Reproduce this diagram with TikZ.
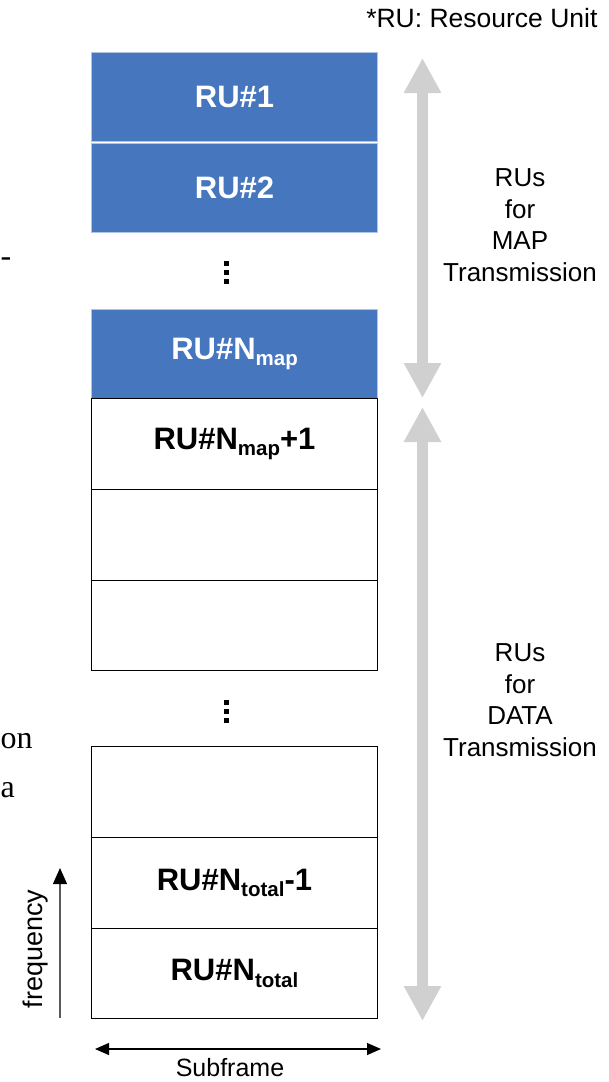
\documentclass[tikz,border=0pt]{standalone}
\usepackage{fontspec}
\setmainfont{Liberation Sans}
\newfontfamily\cutserif{Liberation Serif}
\usetikzlibrary{arrows.meta}

\definecolor{ruBlue}{RGB}{70,118,190}
\definecolor{ruEdge}{RGB}{175,196,230}
\definecolor{spanGray}{RGB}{208,208,208}

% lowered subscript used in the RU labels
\newcommand{\rusub}[1]{\raisebox{-6.5pt}{\fontsize{20.5}{20.5}\selectfont #1}}

\begin{document}
\begin{tikzpicture}[x=1pt, y=-1pt,
  rubox/.style={rectangle, anchor=north west, minimum width=286pt,
    inner sep=0pt, font=\fontsize{31}{36}\selectfont\bfseries},
  mapbox/.style={rubox, fill=ruBlue, draw=ruEdge, line width=1.2pt, text=white},
  databox/.style={rubox, fill=white, draw=black, line width=0.9pt, text=black},
  sidelabel/.style={align=center, font=\fontsize{26}{31.5}\selectfont},
  axislabel/.style={font=\fontsize{25}{30}\selectfont, inner sep=1pt},
  fragment/.style={anchor=base west, inner sep=0pt, font=\cutserif\fontsize{32}{32}\selectfont},
  span/.style={draw=spanGray, line width=11pt,
    {Triangle[width=35pt,length=35pt]}-{Triangle[width=35pt,length=35pt]}},
  dot/.style={fill=black}
]
\useasboundingbox (0,0) rectangle (608,1082);

% legend
\node[anchor=base east, font=\fontsize{26.5}{30}\selectfont] (legend) at (601,27) {*RU: Resource Unit};

% fragments of neighbouring text
\node[fragment] (fragA) at (0.5,266) {-};
\node[fragment] (fragB) at (0.5,748) {on};
\node[fragment] (fragC) at (0.5,797) {a};

% resource units for MAP transmission
\node[mapbox, minimum height=89pt] (ru1) at (91,52) {RU\#1};
\node[mapbox, minimum height=89pt] (ru2) at (91,143) {RU\#2};
\node[mapbox, minimum height=89pt] (rumap) at (91,309) {RU\#N\rusub{map}};

% resource units for DATA transmission
\node[databox, minimum height=91pt] (rud1) at (91,398) {RU\#N\rusub{map}+1};
\node[databox, minimum height=91pt] (rud2) at (91,489) {};
\node[databox, minimum height=90pt] (rud3) at (91,580) {};
\node[databox, minimum height=91pt] (rud4) at (91,746) {};
\node[databox, minimum height=91pt] (rutm1) at (91,837) {RU\#N\rusub{total}-1};
\node[databox, minimum height=90pt] (rut) at (91,928) {RU\#N\rusub{total}};

% vertical ellipses
\foreach \y in {261,270,279} { \fill[dot] (224,\y) rectangle +(4.5,4.5); }
\foreach \y in {700,709,718} { \fill[dot] (224,\y) rectangle +(4.5,4.5); }

% span arrows
\coordinate (mapTop) at (422.5,58);
\coordinate (mapBot) at (422.5,398);
\coordinate (dataTop) at (422.5,407);
\coordinate (dataBot) at (422.5,1021);
\draw[span] (mapTop) -- (mapBot);
\draw[span] (dataTop) -- (dataBot);

\node[sidelabel] (mapLabel) at (520,225) {RUs\\for\\MAP\\Transmission};
\node[sidelabel] (dataLabel) at (520,700) {RUs\\for\\DATA\\Transmission};

% axes
\coordinate (fBase) at (60,1018);
\coordinate (fTip) at (60,868);
\draw[draw=black!65, line width=1.2pt,
  -{Triangle[width=14pt,length=16pt,color=black]}] (fBase) -- (fTip);
\node[font=\fontsize{27}{30}\selectfont, rotate=90] (freq) at (36,949) {frequency};

\coordinate (sLeft) at (95,1049);
\coordinate (sRight) at (381,1049);
\draw[draw=black, line width=1.2pt,
  {Triangle[width=12pt,length=14pt]}-{Triangle[width=12pt,length=14pt]}] (sLeft) -- (sRight);
\node[axislabel] (subframe) at (230,1068) {Subframe};
\end{tikzpicture}
\end{document}
